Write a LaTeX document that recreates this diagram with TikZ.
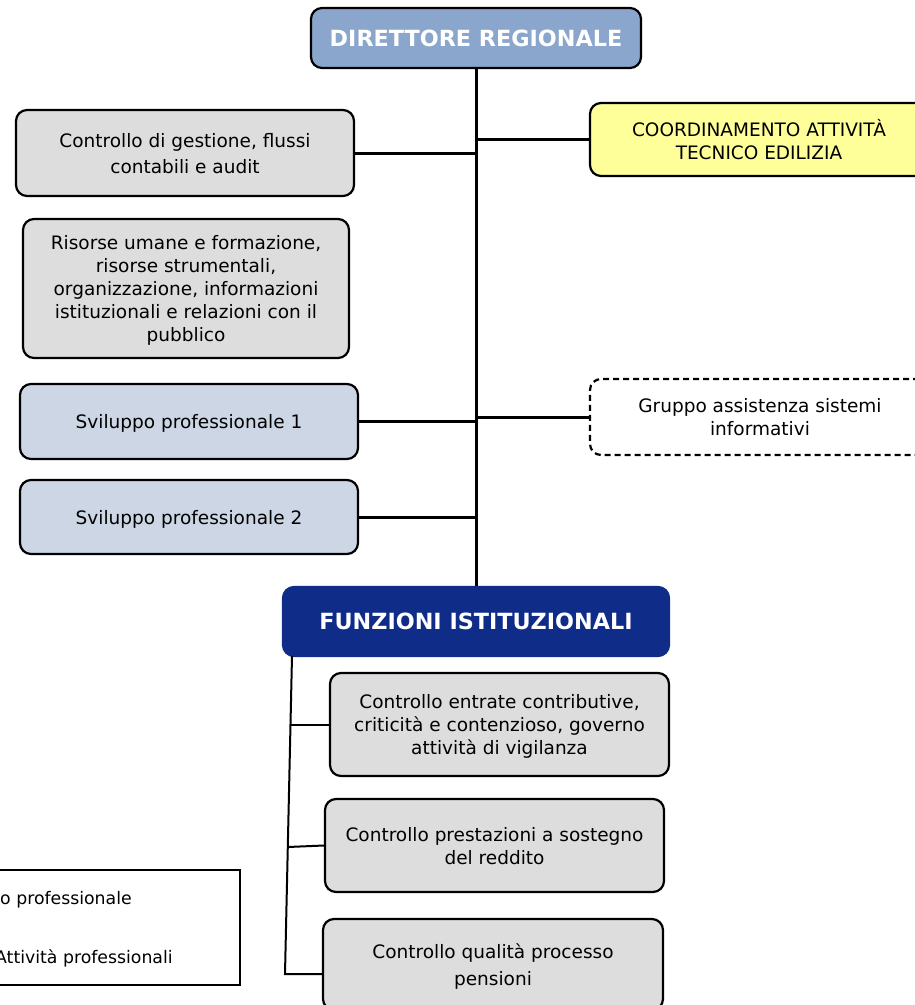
\documentclass[tikz,border=0pt]{standalone}
\usepackage{fontspec}
\setmainfont{DejaVu Sans}
\usetikzlibrary{calc}
\definecolor{dirblue}{HTML}{8AA6CD}
\definecolor{funblue}{HTML}{0F2D88}
\definecolor{boxgray}{HTML}{DDDDDD}
\definecolor{devblue}{HTML}{CCD6E4}
\definecolor{yelbox}{HTML}{FFFF99}
\tikzset{
  every node/.style={font=\fontsize{18.5}{23}\selectfont, align=center, inner sep=0pt, text depth=0pt},
  rbox/.style={draw=black, line width=2.2pt, rounded corners=11pt},
  graybox/.style={rbox, fill=boxgray},
  devbox/.style={rbox, fill=devblue},
  titlebox/.style={rbox, text=white, font=\fontsize{22.3}{26}\selectfont\bfseries},
  legtext/.style={anchor=west, font=\fontsize{17.3}{21}\selectfont},
  trunk/.style={line width=3pt},
  branch/.style={line width=2pt},
}
\begin{document}
\begin{tikzpicture}[x=1pt,y=-1pt]
\useasboundingbox (0,0) rectangle (915,1005);
\clip (0,0) rectangle (915,1005);
\node[titlebox, fill=dirblue, minimum width=330pt, minimum height=60pt] (dir) at (476,38) {DIRETTORE REGIONALE};
\node[rbox, fill=yelbox, minimum width=338pt, minimum height=73pt] (yel) at (759,139.5) {COORDINAMENTO ATTIVITÀ\\TECNICO EDILIZIA};
\node[graybox, minimum width=338pt, minimum height=86pt, font=\fontsize{18.5}{26}\selectfont] (ges) at (185,153) {Controllo di gestione, flussi\\contabili e audit};
\node[graybox, minimum width=326pt, minimum height=139pt] (ris) at (186,288.5) {Risorse umane e formazione,\\risorse strumentali,\\organizzazione, informazioni\\istituzionali e relazioni con il\\pubblico};
\node[devbox, minimum width=338pt, minimum height=75pt] (sv1) at (189,421.5) {Sviluppo professionale 1};
\node[devbox, minimum width=338pt, minimum height=74pt] (sv2) at (189,517) {Sviluppo professionale 2};
\node[rbox, dash pattern=on 6pt off 4pt, fill=white, minimum width=340pt, minimum height=76pt] (gru) at (760,417) {Gruppo assistenza sistemi\\informativi};
\node[titlebox, fill=funblue, draw=funblue, minimum width=386pt, minimum height=69pt] (fun) at (476,621.5) {FUNZIONI ISTITUZIONALI};
\node[graybox, minimum width=339pt, minimum height=103pt] (ent) at (499.5,724.5) {Controllo entrate contributive,\\criticità e contenzioso, governo\\attività di vigilanza};
\node[graybox, minimum width=339pt, minimum height=93pt] (pre) at (494.5,845.5) {Controllo prestazioni a sostegno\\del reddito};
\node[graybox, minimum width=340pt, minimum height=91pt, font=\fontsize{18.5}{27}\selectfont] (qua) at (493,964.5) {Controllo qualità processo\\pensioni};
% legend box
\draw[line width=2.2pt] (-20,870) rectangle (240,985);
\node[legtext] (lg1) at (0,898) {o professionale};
\node[legtext] (lg2) at (-5,957) {Attività professionali};
% connectors
\draw[trunk] (dir.south) -- (fun.north);
\draw[trunk] (ges.east) -- (ges.east -| dir.south);
\draw[trunk] (yel.west) -- (yel.west -| dir.south);
\draw[trunk] (sv1.east) -- (sv1.east -| dir.south);
\draw[trunk] (sv2.east) -- (sv2.east -| dir.south);
\draw[trunk] (gru.west) -- (gru.west -| dir.south);
\coordinate (t0) at (292,656);
\coordinate (t3) at (285,974);
\coordinate (b1) at (290.5,724.5);
\coordinate (b2) at (287.8,847);
\draw[branch] (t0) -- (t3) -- (t3 -| qua.west);
\draw[branch] (b1) -- (ent.west);
\draw[branch] (b2) -- (pre.west);
\end{tikzpicture}
\end{document}
